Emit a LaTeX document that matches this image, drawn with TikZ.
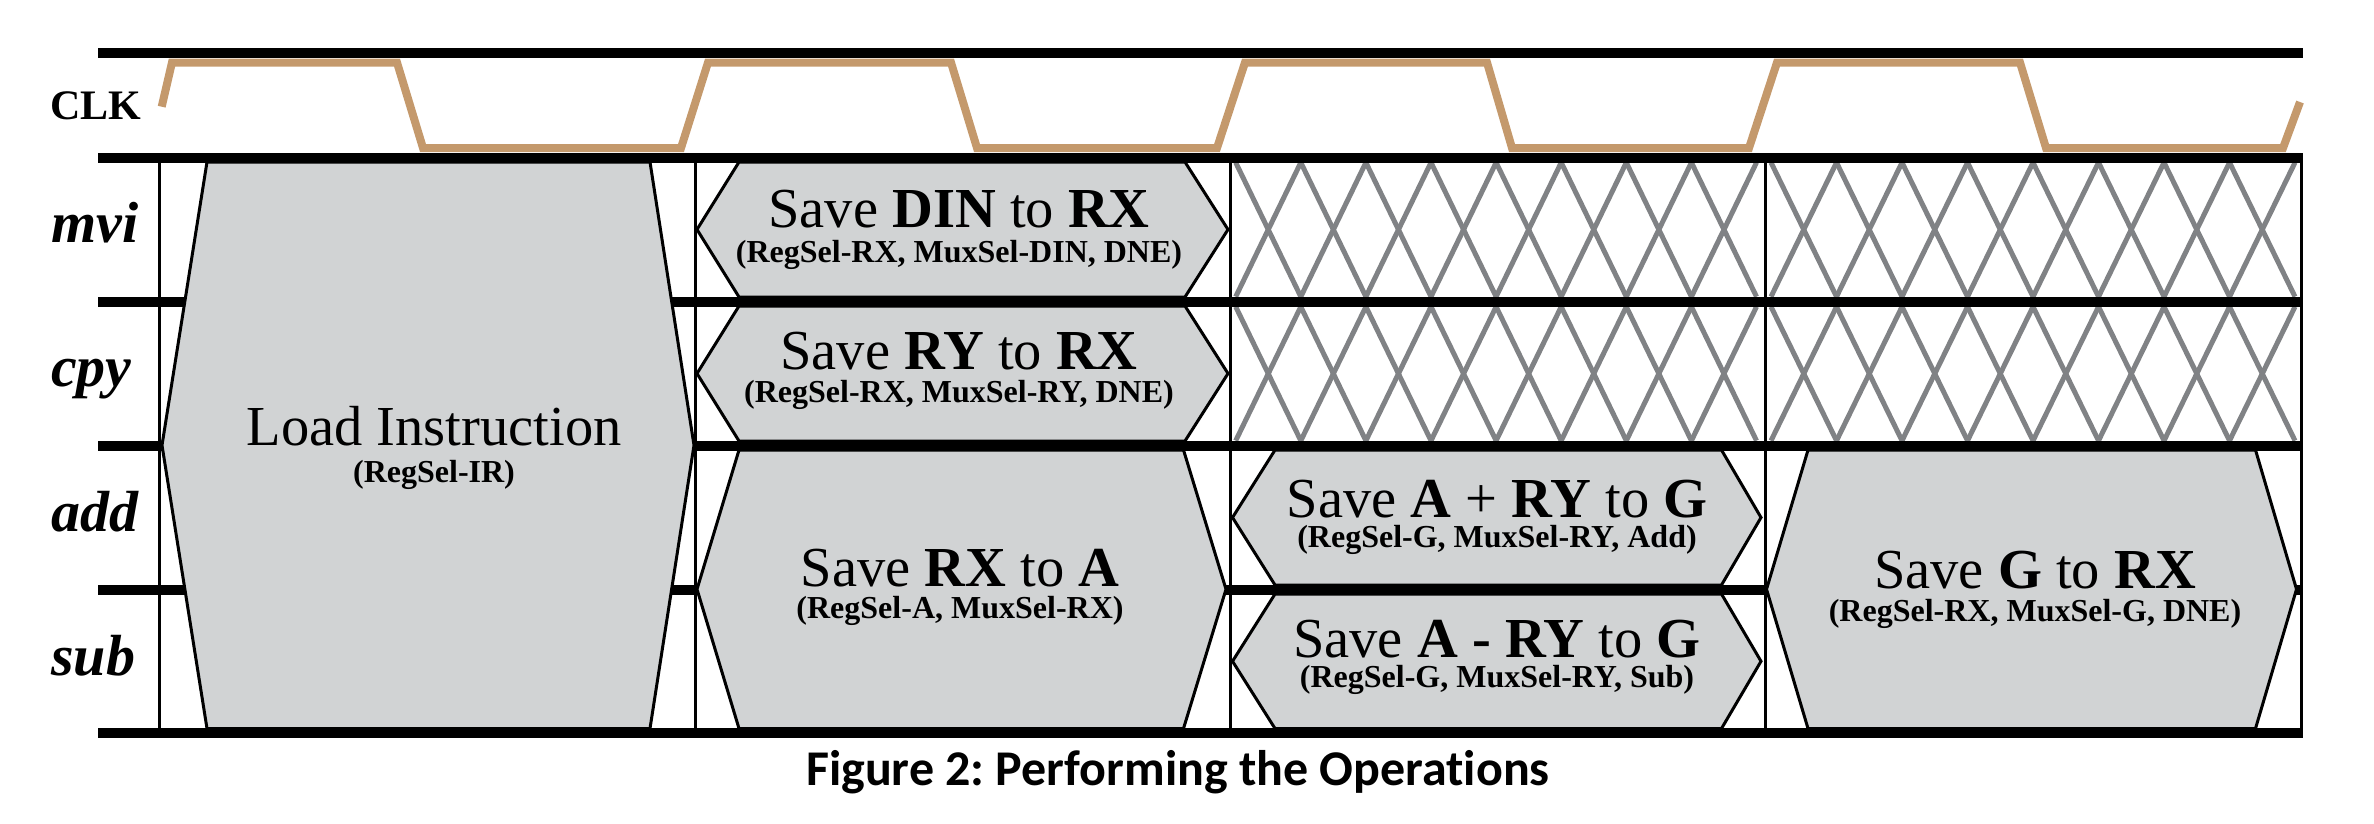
\documentclass[tikz,border=0pt]{standalone}
\usepackage{fontspec}
\setmainfont{Liberation Serif}
\newfontfamily\capfont[Ligatures=NoCommon]{Carlito}
\definecolor{clkcol}{RGB}{196,153,108}
\definecolor{hexfill}{RGB}{209,211,212}
\definecolor{hatchcol}{RGB}{128,130,133}
\frenchspacing
\tikzset{
 rail/.style={line width=10pt, black},
 divider/.style={line width=3pt, black},
 clkwave/.style={line width=8pt, clkcol, line join=miter},
 hexbox/.style={fill=hexfill, draw=black, line width=3pt, line join=miter},
 hatchline/.style={line width=5pt, hatchcol},
 clklbl/.style={anchor=base west, inner sep=0pt, font=\fontsize{42}{44}\selectfont\bfseries},
 sig/.style={anchor=base west, inner sep=0pt, font=\fontsize{58}{60}\selectfont\bfseries\itshape},
 maintxt/.style={anchor=base, inner sep=0pt, font=\fontsize{56.5}{60}\selectfont},
 subtxt/.style={anchor=base, inner sep=0pt, font=\fontsize{32}{34}\selectfont\bfseries},
 captxt/.style={anchor=base, inner sep=0pt, font=\capfont\bfseries\fontsize{50}{52}\selectfont},
}
\newcommand\hexshape[6]{\draw[hexbox] (#1,{(#5+#6)/2}) -- (#2,#5) -- (#3,#5) -- (#4,{(#5+#6)/2}) -- (#3,#6) -- (#2,#6) -- cycle;}
\begin{document}
\begin{tikzpicture}[x=1pt,y=-1pt]
\useasboundingbox (0,0) rectangle (2374,823);
% cross hatch (don't care)
\foreach \xa/\dx in {1235.7/65.1, 1771/65.5}{
  \foreach \ya/\yb in {162.5/296.7, 306.7/440.7}{
    \foreach \k in {0,...,7}{
      \draw[hatchline] ({\xa+\k*\dx},\ya) -- ({\xa+(\k+1)*\dx},\yb);
      \draw[hatchline] ({\xa+\k*\dx},\yb) -- ({\xa+(\k+1)*\dx},\ya);
    }}}
% cycle dividers
\foreach \xx in {159,695,1230,1765,2301}{
  \draw[divider] (\xx,157) -- (\xx,733);
}
% rails
\foreach \yy in {52.5,157.5,301.7,445.5,589.5,733}{
  \draw[rail] (98,\yy) -- (2302.5,\yy);
}
% phases
\hexshape{162}{207}{650}{694}{162}{728.5}
\hexshape{697}{739}{1185}{1228}{162}{297}
\hexshape{697}{739}{1185}{1228}{306}{441}
\hexshape{697}{739}{1183.5}{1226}{450}{728.5}
\hexshape{1232.5}{1275}{1721.5}{1761}{450}{585}
\hexshape{1232.5}{1275}{1721.5}{1761}{594}{728.5}
\hexshape{1766.5}{1808}{2255.5}{2296.5}{450}{728.5}
% clock
\draw[clkwave] (161.7,106.7) -- (172,62.5) -- (397,62.5) -- (423,148) -- (681,148) -- (708,62.5)
  -- (951,62.5) -- (977,148) -- (1217,148) -- (1245,62.5) -- (1487,62.5) -- (1512,148)
  -- (1749,148) -- (1777,62.5) -- (2020,62.5) -- (2046,148) -- (2283,148) -- (2300,102);
% labels
\node[clklbl] (clk) at (50,119) {CLK};
\node[sig] (mvi) at (51,242) {mvi};
\node[sig] (cpy) at (51,386.5) {cpy};
\node[sig] (add) at (51,531) {add};
\node[sig] (sub) at (51,675) {sub};
% phase texts
\node[maintxt] (t-load) at (434,445) {Load Instruction};
\node[subtxt] (s-load) at (434,482) {(RegSel-IR)};
\node[maintxt] (t-din) at (959,227.5) {Save \textbf{DIN} to \textbf{RX}};
\node[subtxt] (s-din) at (959,262) {(RegSel-RX, MuxSel-DIN, DNE)};
\node[maintxt] (t-ry) at (959,369) {Save \textbf{RY} to \textbf{RX}};
\node[subtxt] (s-ry) at (959,402) {(RegSel-RX, MuxSel-RY, DNE)};
\node[maintxt] (t-rxa) at (960,586) {Save \textbf{RX} to \textbf{A}};
\node[subtxt] (s-rxa) at (960,618) {(RegSel-A, MuxSel-RX)};
\node[maintxt] (t-add) at (1497,517) {Save \textbf{A} + \textbf{RY} to \textbf{G}};
\node[subtxt] (s-add) at (1497,547) {(RegSel-G, MuxSel-RY, Add)};
\node[maintxt] (t-sub) at (1497,657) {Save \textbf{A - RY} to \textbf{G}};
\node[subtxt] (s-sub) at (1497,687) {(RegSel-G, MuxSel-RY, Sub)};
\node[maintxt] (t-grx) at (2035,588.5) {Save \textbf{G} to \textbf{RX}};
\node[subtxt] (s-grx) at (2035,621.5) {(RegSel-RX, MuxSel-G, DNE)};
% caption
\node[captxt] (cap) at (1178,785.7) {Figure 2: Performing the Operations};
\end{tikzpicture}
\end{document}
